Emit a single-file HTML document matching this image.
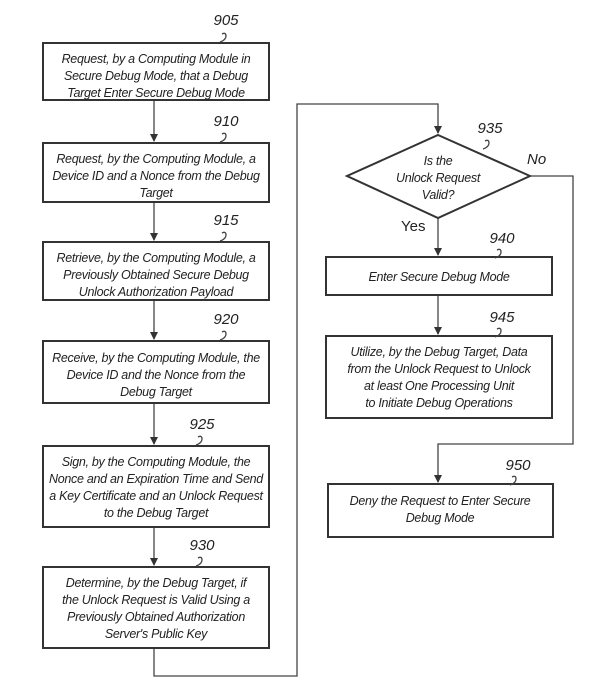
<!DOCTYPE html>
<html><head><style>
body{margin:0;background:#fff;}
svg{display:block}
text{font-family:"Liberation Sans",sans-serif;font-style:italic;font-size:12.5px;letter-spacing:-0.3px;fill:#222;}
.b{fill:#fff;stroke:#333;stroke-width:2;}
.l{fill:none;stroke:#444;stroke-width:1.3;}
.n{font-size:15px;letter-spacing:0;}
</style></head><body>
<svg width="613" height="699" viewBox="0 0 613 699">
<defs><marker id="a" markerWidth="8" markerHeight="8" refX="7" refY="4" orient="auto" markerUnits="userSpaceOnUse"><path d="M0,0 L8,4 L0,8 z" fill="#333"/></marker></defs>
<path class="l" d="M154,101 V141" marker-end="url(#a)"/>
<path class="l" d="M154,203 V240" marker-end="url(#a)"/>
<path class="l" d="M154,301 V339" marker-end="url(#a)"/>
<path class="l" d="M154,404 V444" marker-end="url(#a)"/>
<path class="l" d="M154,528 V565" marker-end="url(#a)"/>
<path class="l" d="M154,649 V676 H297 V104 H438 V133" marker-end="url(#a)"/>
<path class="l" d="M438,218 V255" marker-end="url(#a)"/>
<path class="l" d="M438,296 V334" marker-end="url(#a)"/>
<path class="l" d="M530,176 H573 V444 H438 V482" marker-end="url(#a)"/>
<rect class="b" x="43" y="43" width="226" height="57"/>
<rect class="b" x="43" y="143" width="226" height="59"/>
<rect class="b" x="43" y="242" width="226" height="58"/>
<rect class="b" x="43" y="341" width="226" height="62"/>
<rect class="b" x="43" y="446" width="226" height="81"/>
<rect class="b" x="43" y="567" width="226" height="81"/>
<polygon class="b" points="438,135 530,176 438,218 347,176"/>
<rect class="b" x="326" y="257" width="226" height="38"/>
<rect class="b" x="326" y="336" width="226" height="82"/>
<rect class="b" x="328" y="484" width="225" height="53"/>
<g class="l">
<path d="M222,34 q4,-2 4,2 q0,4 -6,6"/>
<path d="M222,134 q4,-2 4,2 q0,4 -6,6"/>
<path d="M222,233 q4,-2 4,2 q0,4 -6,6"/>
<path d="M222,332 q4,-2 4,2 q0,4 -6,6"/>
<path d="M198,437 q4,-2 4,2 q0,4 -6,6"/>
<path d="M198,558 q4,-2 4,2 q0,4 -6,6"/>
<path d="M485,141 q4,-2 4,2 q0,4 -6,6"/>
<path d="M497,250 q4,-2 4,2 q0,4 -6,6"/>
<path d="M497,329 q4,-2 4,2 q0,4 -6,6"/>
<path d="M512,477 q4,-2 4,2 q0,4 -6,6"/>
</g>
<g text-anchor="middle">
<text class="n" x="226" y="25">905</text>
<text class="n" x="226" y="126">910</text>
<text class="n" x="226" y="225">915</text>
<text class="n" x="226" y="324">920</text>
<text class="n" x="202" y="429">925</text>
<text class="n" x="202" y="550">930</text>
<text class="n" x="490" y="133">935</text>
<text class="n" x="502" y="243">940</text>
<text class="n" x="502" y="322">945</text>
<text class="n" x="518" y="470">950</text>
</g>
<g text-anchor="middle">
<text x="156" y="63">Request, by a Computing Module in</text>
<text x="156" y="80">Secure Debug Mode, that a Debug</text>
<text x="156" y="97">Target Enter Secure Debug Mode</text>
<text x="156" y="163">Request, by the Computing Module, a</text>
<text x="156" y="180">Device ID and a Nonce from the Debug</text>
<text x="156" y="197">Target</text>
<text x="156" y="262">Retrieve, by the Computing Module, a</text>
<text x="156" y="279">Previously Obtained Secure Debug</text>
<text x="156" y="296">Unlock Authorization Payload</text>
<text x="156" y="362">Receive, by the Computing Module, the</text>
<text x="156" y="379">Device ID and the Nonce from the</text>
<text x="156" y="396">Debug Target</text>
<text x="156" y="466">Sign, by the Computing Module, the</text>
<text x="156" y="483">Nonce and an Expiration Time and Send</text>
<text x="156" y="500">a Key Certificate and an Unlock Request</text>
<text x="156" y="517">to the Debug Target</text>
<text x="156" y="587">Determine, by the Debug Target, if</text>
<text x="156" y="604">the Unlock Request is Valid Using a</text>
<text x="156" y="621">Previously Obtained Authorization</text>
<text x="156" y="638">Server's Public Key</text>
<text x="438" y="165">Is the</text>
<text x="438" y="182">Unlock Request</text>
<text x="438" y="199">Valid?</text>
<text x="439" y="281">Enter Secure Debug Mode</text>
<text x="439" y="356">Utilize, by the Debug Target, Data</text>
<text x="439" y="373">from the Unlock Request to Unlock</text>
<text x="439" y="390">at least One Processing Unit</text>
<text x="439" y="407">to Initiate Debug Operations</text>
<text x="440" y="505">Deny the Request to Enter Secure</text>
<text x="440" y="522">Debug Mode</text>
</g>
<text class="n" x="527" y="164">No</text>
<text class="n" x="401" y="231" style="font-style:normal">Yes</text>
</svg>
</body></html>
